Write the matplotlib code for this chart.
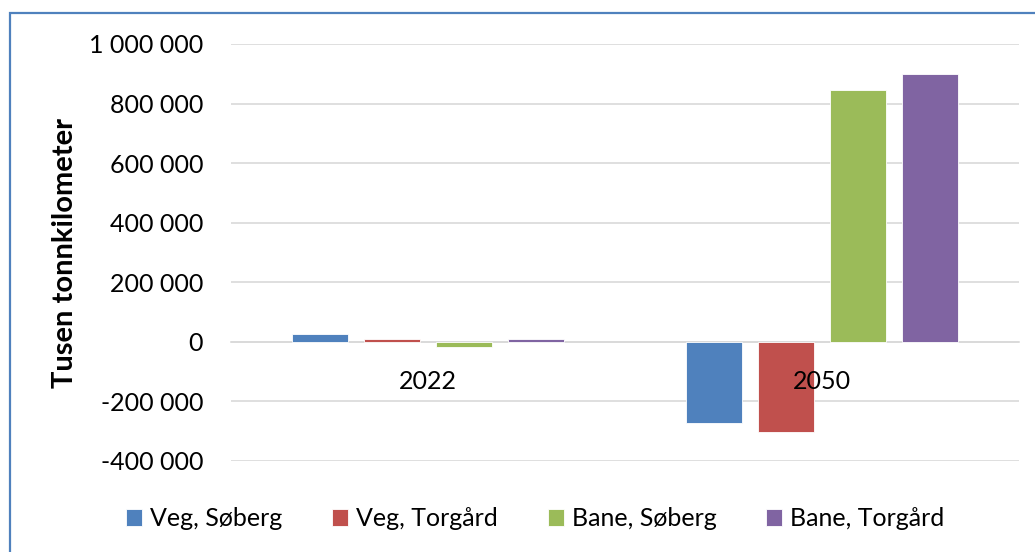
import matplotlib.pyplot as plt
import matplotlib.ticker as ticker
from matplotlib.patches import Rectangle
import numpy as np

plt.rcParams['font.family'] = ['Lato', 'DejaVu Sans']

years = ['2022', '2050']
series = ['Veg, Søberg', 'Veg, Torgård', 'Bane, Søberg', 'Bane, Torgård']
veg_soberg = [28000, -273000]
veg_torgard = [8000, -302000]
bane_soberg = [-16000, 845000]
bane_torgard = [10000, 898000]
colors = ['#4f81bd', '#c0504d', '#9bbb59', '#8064a2']

values = [veg_soberg, veg_torgard, bane_soberg, bane_torgard]

fig = plt.figure(figsize=(10.35, 5.52), dpi=100)
ax = fig.add_axes([231 / 1035, 91 / 552, 788 / 1035, 417 / 552])

x = np.arange(len(years))
step = 0.183
width = 0.142
for i, (name, vals, c) in enumerate(zip(series, values, colors)):
    ax.bar(x + (i - 1.5) * step, vals, width, color=c, label=name,
           edgecolor='white', linewidth=0.6, zorder=3)

ax.set_xlim(-0.5, 1.5)
ax.set_ylim(-400000, 1000000)
ax.set_yticks(np.arange(-400000, 1000001, 200000))
ax.yaxis.set_major_formatter(ticker.FuncFormatter(lambda v, p: f"{int(v):,}".replace(",", " ")))
ax.grid(axis='y', color='#d9d9d9', linewidth=1.2)

# gridlines under the bars, category labels over them
ax.yaxis.set_zorder(0.5)
ax.xaxis.set_zorder(4)

for s in ['top', 'right', 'left']:
    ax.spines[s].set_visible(False)
ax.spines['bottom'].set_position(('data', 0))
ax.spines['bottom'].set_color('#d9d9d9')
ax.spines['bottom'].set_linewidth(1.2)
ax.spines['bottom'].set_zorder(2)

ax.set_xticks(x)
ax.set_xticklabels(years)
ax.tick_params(axis='x', length=0, labelsize=18, pad=20)
ax.tick_params(axis='y', length=0, labelsize=18, pad=20)

ax.set_ylabel('Tusen tonnkilometer', fontsize=21, fontweight='bold', labelpad=8)

fig.legend(loc='center', bbox_to_anchor=(0.517, 0.06), ncol=4, frameon=False,
           fontsize=18, handlelength=0.64, handleheight=0.64, handletextpad=0.32,
           columnspacing=2.0)

fig.patches.append(Rectangle((10 / 1035, -0.1), 1.2, (552 - 13) / 552 + 0.1,
                             transform=fig.transFigure, fill=False,
                             edgecolor='#4f81bd', linewidth=1.6, clip_on=False))

fig.savefig('out.png', dpi=100)
